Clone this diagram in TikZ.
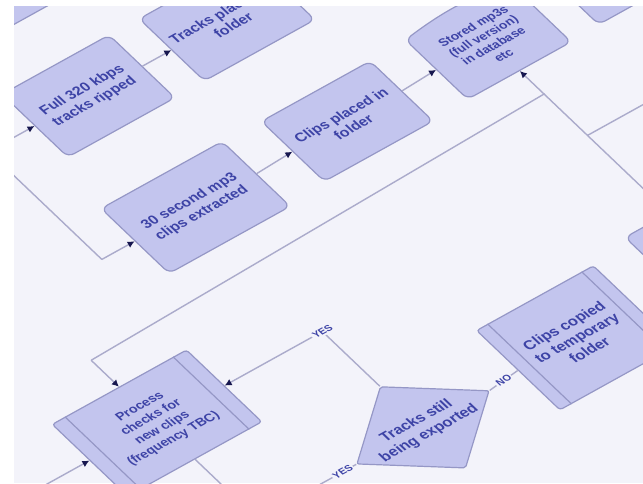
\documentclass[tikz,border=0pt]{standalone}
\usepackage{fontspec}
\setmainfont{Liberation Sans}
\usetikzlibrary{calc,arrows.meta,shapes.geometric}
\definecolor{pagebg}{HTML}{F3F3FA}
\definecolor{boxfill}{HTML}{C3C5EE}
\definecolor{boxline}{HTML}{9597C6}
\definecolor{txt}{HTML}{3D43A6}
\definecolor{connc}{HTML}{ABABCB}
\definecolor{tipc}{HTML}{17174F}
\tikzset{
  fbox/.style={draw=boxline, fill=boxfill, line width=1.2pt, rounded corners=7pt,
    align=center, text=txt, font=\bfseries\fontsize{14.5}{17}\selectfont,
    transform shape, inner sep=2pt},
  fproc/.style={fbox, rounded corners=3pt},
  fdec/.style={diamond, aspect=1.3, draw=boxline, fill=boxfill, line width=1.2pt, rounded corners=2pt,
    align=center, text=txt, font=\bfseries\fontsize{15}{17.5}\selectfont,
    transform shape, inner sep=0pt},
  bar/.style={draw=boxline, line width=1.2pt},
  conn/.style={draw=connc, line width=1.4pt},
  flow/.style={conn, -{Latex[length=7pt,width=7pt,color=tipc]}},
  lbl/.style={fill=pagebg, text=txt, font=\bfseries\fontsize{10}{11}\selectfont,
    transform shape, inner sep=1.5pt},
}
\begin{document}
\begin{tikzpicture}
\useasboundingbox (0,0) rectangle (643pt,-483pt);
\fill[white] (0,0) rectangle (643pt,-483pt);
\begin{scope}
\clip (14pt,-6pt) rectangle (643pt,-483pt);
\fill[pagebg] (14pt,-6pt) rectangle (643pt,-483pt);
\begin{scope}[x=1pt, y=1pt, cm={0.877,0.486,-0.724,0.690,(320pt,-240pt)}]
  % connector end points and bends
  \coordinate (busTop) at (-172,380);
  \coordinate (busFull) at (-172,249.5);
  \coordinate (busThirty) at (-172,93);
  \coordinate (rbtop) at (272,-152);
  \coordinate (j1) at (272,20);
  \coordinate (j2) at (-256,6);
  \coordinate (j3) at (272,-40);
  \coordinate (rt) at (400,-40);
  \coordinate (yc) at (-67.5,-85);
  \coordinate (yb) at (-230,-224);
  \coordinate (pin) at (-400,-85);
  \coordinate (pout) at (-256,-210);

  % Stored shape outline (drawn directly)
  \path[draw=boxline, fill=boxfill, line width=1.2pt, rounded corners=7pt]
    (213,54) -- (213,140) to[bend left=8] (331,140) -- (331,54) -- cycle;

  % nodes
  \node[fbox, minimum width=122pt, minimum height=90pt] (tl) at (-58,398) {};
  \node[fbox, minimum width=122pt, minimum height=91pt] (full) at (-58,249.5) {Full 320 kbps\\tracks ripped};
  \node[fbox, minimum width=126pt, minimum height=90pt] (tracks) at (100,249.5) {Tracks placed in\\folder};
  \node[fbox, minimum width=138pt, minimum height=94pt] (thirty) at (-65,93) {30 second mp3\\clips extracted};
  \node[fbox, minimum width=124pt, minimum height=87pt] (placed) at (109.5,95) {Clips placed in\\folder};
  \node[fbox, draw=none, fill=none, minimum width=118pt, minimum height=86pt,
        font=\bfseries\fontsize{12.5}{14}\selectfont] (stored) at (272,97)
        {Stored mp3s\\(full version)\\in database\\etc};
  \node[fbox, minimum width=116pt, minimum height=88pt] (tr) at (422,100) {};
  \node[fbox, minimum width=116pt, minimum height=115pt] (rb) at (280,-210) {};
  \node[fproc, minimum width=133pt, minimum height=115pt,
        font=\bfseries\fontsize{15}{17.5}\selectfont] (copied) at (111,-220)
        {Clips copied\\to temporary\\folder};
  \node[fdec, minimum width=151pt, minimum height=118pt] (still) at (-67.5,-224)
        {Tracks still\\being exported};
  \node[fproc, minimum width=153pt, minimum height=104pt,
        font=\bfseries\fontsize{13}{15.5}\selectfont] (proc) at (-256,-85)
        {Process\\checks for\\new clips\\(frequency TBC)};

  % process side bars
  \foreach \n in {copied,proc}{
    \draw[bar] ($(\n.north west)!0.1!(\n.north east)$) -- ($(\n.south west)!0.1!(\n.south east)$);
    \draw[bar] ($(\n.north west)!0.9!(\n.north east)$) -- ($(\n.south west)!0.9!(\n.south east)$);
  }

  % connectors
  \draw[conn] (busTop) -- (busThirty);
  \draw[flow] (busFull) -- (full.west);
  \draw[flow] (busThirty) -- (thirty.west);
  \draw[flow] (full.east) -- (tracks.west);
  \draw[flow] (thirty.east) -- (placed.west);
  \draw[flow] (placed.east) -- (stored.west);
  \draw[conn] (rbtop) -- (j1) -- (j2);
  \draw[flow] (j1) -- (stored.south);
  \draw[flow] (j2) -- (proc.north);
  \draw[conn] (rt) -- (j3);
  \draw[flow] (still.north) -- (yc) -- (proc.east);
  \node[lbl] (yeslbl) at (yc) {YES};
  \draw[conn] (still.east) -- (copied.west) node[midway, lbl] (nolbl) {NO};
  \draw[conn] (still.west) -- (yb) node[pos=0.18, lbl] (yes2lbl) {YES};
  \draw[flow] (pin) -- (proc.west);
  \draw[conn] (proc.south) -- (pout);
\end{scope}
\end{scope}
\end{tikzpicture}
\end{document}
